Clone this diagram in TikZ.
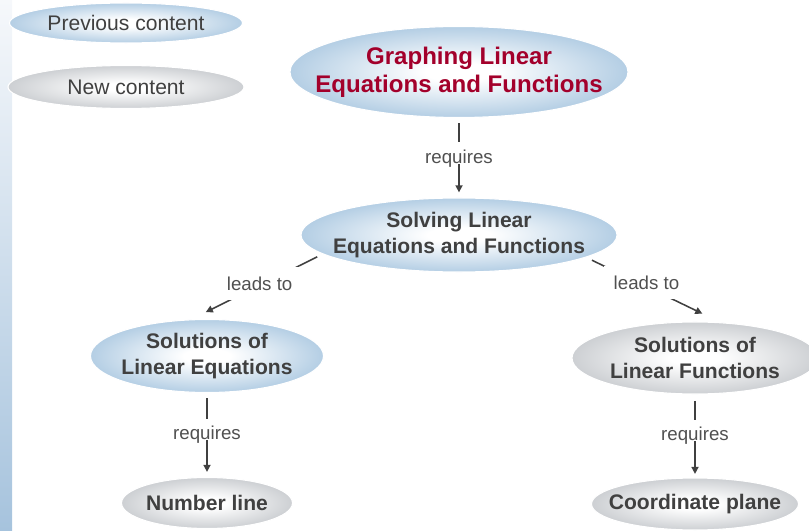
\documentclass[tikz,border=0pt]{standalone}
\usepackage{fontspec}
\setmainfont{Liberation Sans}
\usetikzlibrary{shapes.geometric,arrows.meta}

\definecolor{bubbleblue}{RGB}{146,184,216}
\definecolor{bubblegrey}{RGB}{182,186,191}
\definecolor{titlered}{RGB}{163,0,43}
\definecolor{inkgrey}{RGB}{64,64,64}
\definecolor{labelgrey}{RGB}{80,80,80}
\definecolor{barlight}{RGB}{246,248,251}
\definecolor{barblue}{RGB}{166,195,221}

\pgfdeclareradialshading{oldshade}{\pgfpoint{0bp}{0bp}}{color(0bp)=(white); color(5bp)=(white); color(34bp)=(bubbleblue); color(50bp)=(bubbleblue)}
\pgfdeclareradialshading{newshade}{\pgfpoint{0bp}{0bp}}{color(0bp)=(white); color(5bp)=(white); color(34bp)=(bubblegrey); color(50bp)=(bubblegrey)}

\begin{document}
\begin{tikzpicture}[x=0.025cm, y=-0.025cm,
        bubble/.style={ellipse, shade, draw=white, line width=0.8pt, inner xsep=-3cm, inner ysep=-1cm, align=center, text=inkgrey},
        old/.style={bubble, shading=oldshade},
        new/.style={bubble, shading=newshade},
        topic/.style={font=\fontsize{15}{18.9}\selectfont\bfseries},
        legend/.style={font=\fontsize{15}{18}\selectfont},
        flow/.style={->, >={Triangle[length=5pt,width=5pt]}, draw=inkgrey, line width=1.1pt},
        tag/.style={fill=white, text=labelgrey, font=\fontsize{13.3}{16}\selectfont, text depth=0pt, text height=15pt, inner xsep=3pt, inner ysep=0pt},
        leadtag/.style={fill=white, text=labelgrey, font=\fontsize{13.3}{16}\selectfont, text depth=0pt, inner sep=7pt}
      ]
      \useasboundingbox (0,0) rectangle (809,531);
      \shade[top color=barlight, bottom color=barblue] (0,0) rectangle (12,531);

      % legend
      \node[old, legend, minimum width=5.825cm, minimum height=1.0cm] (prev) at (126,23) {Previous content};
      \node[new, legend, minimum width=5.9cm, minimum height=1.075cm] (newc) at (126,87) {New content};

      % concepts
      \node[old, minimum width=8.45cm, minimum height=2.275cm, font=\fontsize{17.1}{20.1}\selectfont\bfseries, text=titlered] (graph) at (459,72) {Graphing Linear\\Equations and Functions};
      \node[old, topic, minimum width=7.9cm, minimum height=1.85cm] (solve) at (459,235) {Solving Linear\\Equations and Functions};
      \node[old, topic, minimum width=5.825cm, minimum height=1.825cm] (soleq) at (207,356) {Solutions of\\Linear Equations};
      \node[new, topic, minimum width=6.15cm, minimum height=1.8cm] (solfn) at (695,358) {Solutions of\\Linear Functions};
      \node[new, topic, minimum width=4.275cm, minimum height=1.275cm] (numline) at (207,503) {Number line};
      \node[new, topic, minimum width=5.175cm, minimum height=1.3cm] (coord) at (695,504) {Coordinate plane};

      \draw[flow, shorten <=3.6pt, shorten >=3.6pt] (graph) -- node[tag, pos=0.44] {requires} (solve);
      \draw[flow, shorten <=4.3pt, shorten >=11.4pt] (solve.188) -- node[leadtag, pos=0.48, yshift=1.5pt] {leads to} (soleq.113);
      \draw[flow, shorten <=4.5pt, shorten >=14pt] (solve.350) -- node[leadtag, pos=0.45, yshift=3pt] {leads to} (solfn.55);
      \draw[flow, shorten <=3.6pt, shorten >=3.6pt] (soleq) -- node[tag, pos=0.43] {requires} (numline);
      \draw[flow, shorten <=4.5pt, shorten >=2.5pt] (solfn) -- node[tag, pos=0.43] {requires} (coord);
    \end{tikzpicture}
\end{document}
